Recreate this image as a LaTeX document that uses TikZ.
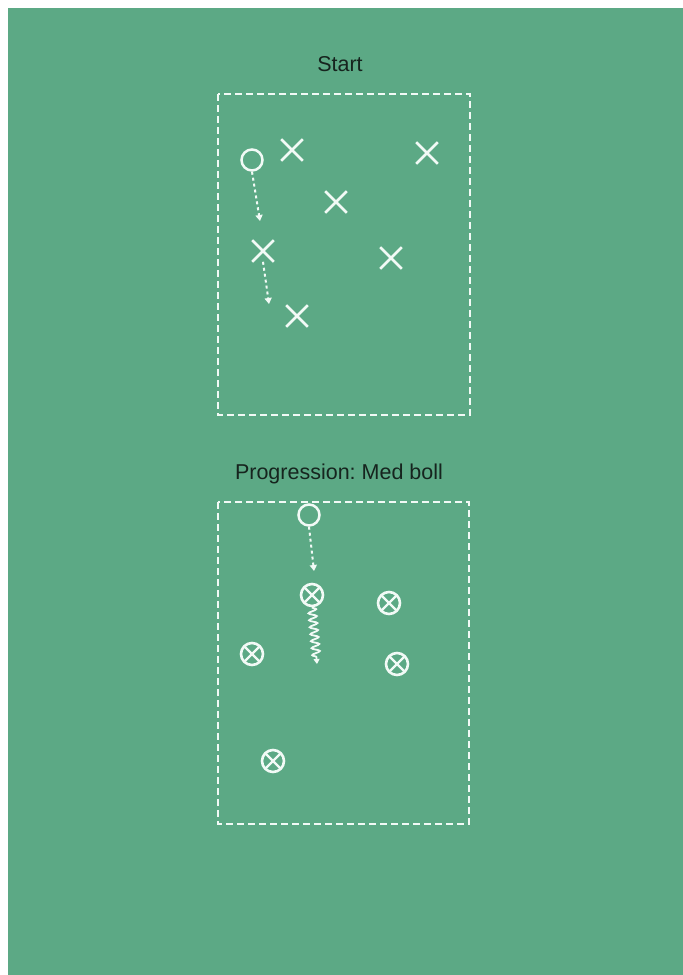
\documentclass[tikz,border=0pt]{standalone}
\usepackage{fontspec}
\setmainfont{Liberation Sans}
\usetikzlibrary{shapes.misc,decorations.pathmorphing,arrows.meta}
\definecolor{pitch}{RGB}{92,169,133}
\definecolor{chalk}{RGB}{242,250,246}
\definecolor{ink}{RGB}{22,36,30}

\begin{document}
\begin{tikzpicture}[x=1pt,y=-1pt,
    area/.style={chalk, line width=2pt, dash pattern=on 7pt off 4pt},
    player/.style={cross out, draw=chalk, line width=2.6pt, minimum size=19pt, inner sep=0pt},
    passer/.style={circle, draw=chalk, line width=2.5pt, minimum size=21pt, inner sep=0pt},
    holder/.style={circle, draw=chalk, line width=2.6pt, minimum size=22pt, inner sep=0pt,
        path picture={\draw[chalk, line width=2.4pt]
            (path picture bounding box.north west) -- (path picture bounding box.south east)
            (path picture bounding box.north east) -- (path picture bounding box.south west);}},
    pass/.style={chalk, line width=2pt, dash pattern=on 3pt off 3pt,
        -{Triangle[length=6pt,width=7pt]}},
    carry/.style={chalk, line width=1.8pt, -{Triangle[length=5pt,width=6pt]},
        decorate, decoration={snake, amplitude=4pt, segment length=7pt, post length=5pt}},
    title/.style={text=ink, font=\fontsize{21.5}{24}\selectfont}]

    % Background
    \fill[white] (0,0) rectangle (683,975);
    \fill[pitch] (8,8) rectangle (683,975);

    % Start
    \node[title] (starttitle) at (340,64) {Start};
    \draw[area] (218,94) rectangle (470,415);

    \node[passer] (s0) at (252,160) {};
    \node[player] (x1) at (292,150) {};
    \node[player] (x2) at (427,153) {};
    \node[player] (x3) at (336,202) {};
    \node[player] (x4) at (263,251) {};
    \node[player] (x5) at (391,258) {};
    \node[player] (x6) at (297,316) {};

    \coordinate (p1) at (260,221);
    \coordinate (p2) at (269,304);
    \draw[pass] (s0.south) -- (p1);
    \draw[pass] (x4.south) -- (p2);

    % Progression
    \node[title] (progtitle) at (339,474) {\frenchspacing Progression: Med boll};
    \draw[area] (218,502) rectangle (469,824);

    \node[passer] (b0) at (309,515) {};
    \node[holder] (h1) at (312,595) {};
    \node[holder] (h2) at (389,603) {};
    \node[holder] (h3) at (252,654) {};
    \node[holder] (h4) at (397,664) {};
    \node[holder] (h5) at (273,761) {};

    \coordinate (p3) at (314,571);
    \coordinate (r1) at (317,664);
    \draw[pass] (b0.south) -- (p3);
    \draw[carry] (h1.south) -- (r1);
\end{tikzpicture}
\end{document}
